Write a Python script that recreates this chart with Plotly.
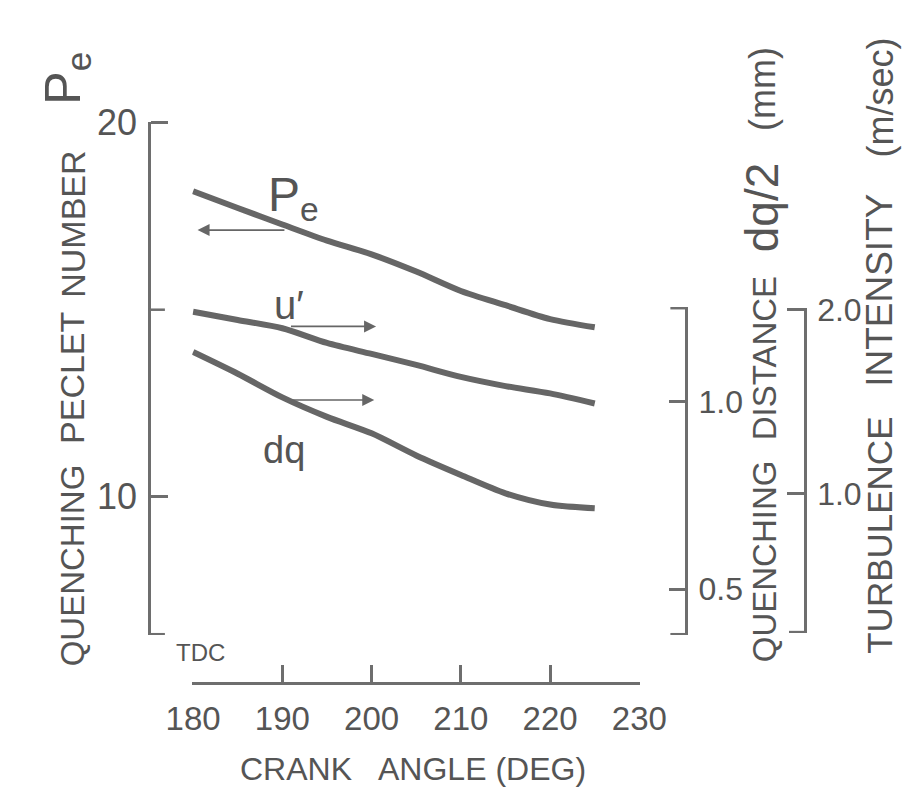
import plotly.graph_objects as go

# ---------------- data ----------------
crank_deg = [180, 185, 190, 195, 200, 205, 210, 215, 220, 225]
peclet_number = [18.17, 17.72, 17.28, 16.85, 16.48, 16.02, 15.50, 15.12, 14.75, 14.53]
quench_dist_half_mm = [1.133, 1.075, 1.012, 0.960, 0.916, 0.857, 0.805, 0.756, 0.726, 0.716]
turb_intensity_ms = [1.990, 1.945, 1.900, 1.820, 1.760, 1.700, 1.635, 1.585, 1.545, 1.490]

x_tick_vals = [180, 190, 200, 210, 220, 230]
x_tick_text = ["180", "190", "200", "210", "220", "230"]
pe_tick_vals = [10, 20]
pe_tick_text = ["10", "20"]
pe_unlabeled_ticks = [6.32, 15]
dq_tick_vals = [0.5, 1.0]
dq_tick_text = ["0.5", "1.0"]
dq_unlabeled_ticks = [0.38, 1.25]
u_tick_vals = [1.0, 2.0]
u_tick_text = ["1.0", "2.0"]
u_unlabeled_ticks = [0.245]

# ---------------- style ----------------
W, H = 920, 787
FONT = "Liberation Sans, Arial, sans-serif"
TXT = "#555555"
AX = "#6e6e6e"
CURVE = "#666666"
TICKLEN = 17

# axis placement (pixels in the 920x787 page)
PE_AXIS_X, DQ_AXIS_X, U_AXIS_X = 121, 692, 818


def px(x):
    return x / W


def py(y):
    return 1 - y / H


fig = go.Figure()
for yv, ya in ((peclet_number, "y"), (quench_dist_half_mm, "y2"), (turb_intensity_ms, "y3")):
    fig.add_trace(go.Scatter(x=crank_deg, y=yv, xaxis="x", yaxis=ya, mode="lines",
                             line=dict(color=CURVE, width=6, shape="spline", smoothing=0.8),
                             hoverinfo="skip"))

common = dict(showgrid=False, zeroline=False, showline=True, linecolor=AX, linewidth=2.5,
              ticks="inside", tickcolor=AX, tickwidth=2.5, ticklen=TICKLEN, tickmode="array",
              fixedrange=True)

fig.update_layout(
    width=W, height=H, margin=dict(l=0, r=0, t=0, b=0),
    paper_bgcolor="white", plot_bgcolor="rgba(0,0,0,0)", showlegend=False,
    xaxis=dict(domain=[px(167), px(643)], range=[179.9, 230.1], anchor="free", position=py(672),
               tickvals=x_tick_vals, ticktext=x_tick_text, ticklabelstandoff=6,
               tickfont=dict(family=FONT, size=33, color=TXT), **common),
    yaxis=dict(domain=[py(623), py(97)], range=[6.30, 20.03], anchor="free", position=px(PE_AXIS_X),
               side="left", tickvals=pe_tick_vals, ticktext=pe_tick_text, ticklabelstandoff=4,
               tickfont=dict(family=FONT, size=36, color=TXT), **common),
    yaxis2=dict(domain=[py(623), py(287)], range=[0.378, 1.253], anchor="free", position=px(DQ_AXIS_X),
                side="right", tickvals=dq_tick_vals, ticktext=dq_tick_text, ticklabelstandoff=4,
                tickfont=dict(family=FONT, size=32, color=TXT), **common),
    yaxis3=dict(domain=[py(621), py(288)], range=[0.24, 2.01], anchor="free", position=px(U_AXIS_X),
                side="right", tickvals=u_tick_vals, ticktext=u_tick_text, ticklabelstandoff=4,
                tickfont=dict(family=FONT, size=32, color=TXT), **common),
)

# unlabeled tick stubs (bracket ends and the 15 mark)
shapes = []
for v in pe_unlabeled_ticks:
    shapes.append(dict(type="line", xref="paper", yref="y", x0=px(PE_AXIS_X), x1=px(PE_AXIS_X + TICKLEN),
                       y0=v, y1=v, line=dict(color=AX, width=2.5)))
for v in dq_unlabeled_ticks:
    shapes.append(dict(type="line", xref="paper", yref="y2", x0=px(DQ_AXIS_X), x1=px(DQ_AXIS_X - TICKLEN),
                       y0=v, y1=v, line=dict(color=AX, width=2.5)))
for v in u_unlabeled_ticks:
    shapes.append(dict(type="line", xref="paper", yref="y3", x0=px(U_AXIS_X), x1=px(U_AXIS_X - TICKLEN),
                       y0=v, y1=v, line=dict(color=AX, width=2.5)))

ann = []


def label(text, x, y, size, angle=0):
    ann.append(dict(text=text, x=px(x), y=py(y), xref="paper", yref="paper", showarrow=False,
                    xanchor="center", yanchor="middle", textangle=angle, borderpad=0,
                    font=dict(family=FONT, size=size, color=TXT)))


# left axis title
label("QUENCHING", 40, 552, 33, -90)
label("PECLET", 40, 360, 34, -90)
label("NUMBER", 40, 202, 34, -90)
label("P<sub>e</sub>", 34, 53, 50, -90)
# right axis titles
label("QUENCHING", 775, 548, 33, -90)
label("DISTANCE", 775, 340, 33, -90)
label("dq/2", 772, 185, 46, -90)
label("(mm)", 773, 64, 36, -90)
label("TURBULENCE", 897, 521, 35, -90)
label("INTENSITY", 897, 270, 37, -90)
label("(m/sec)", 898, 72, 36, -90)
# x axis
label("TDC", 176, 641, 24)
label("CRANK", 277, 760, 32)
label("ANGLE (DEG)", 475, 760, 32)
# curve labels
label("P<sub>e</sub>", 275, 175, 48)
label("u\u2032", 270, 285, 40)
label("dq", 264, 433, 38)

# direction arrows (point at the axis each curve is read on)
arrow_common = dict(text="", showarrow=True, arrowhead=2, arrowsize=1.5, arrowwidth=1.6,
                    arrowcolor="#666666", standoff=0, startstandoff=0)
ann.append(dict(x=180.5, y=17.13, ax=190.4, ay=17.13, xref="x", yref="y", axref="x", ayref="y",
                **arrow_common))
ann.append(dict(x=200.5, y=1.91, ax=190.8, ay=1.91, xref="x", yref="y3", axref="x", ayref="y3",
                **arrow_common))
ann.append(dict(x=200.3, y=1.005, ax=191.0, ay=1.005, xref="x", yref="y2", axref="x", ayref="y2",
                **arrow_common))

fig.update_layout(annotations=ann, shapes=shapes)
fig.write_html("out.html")
